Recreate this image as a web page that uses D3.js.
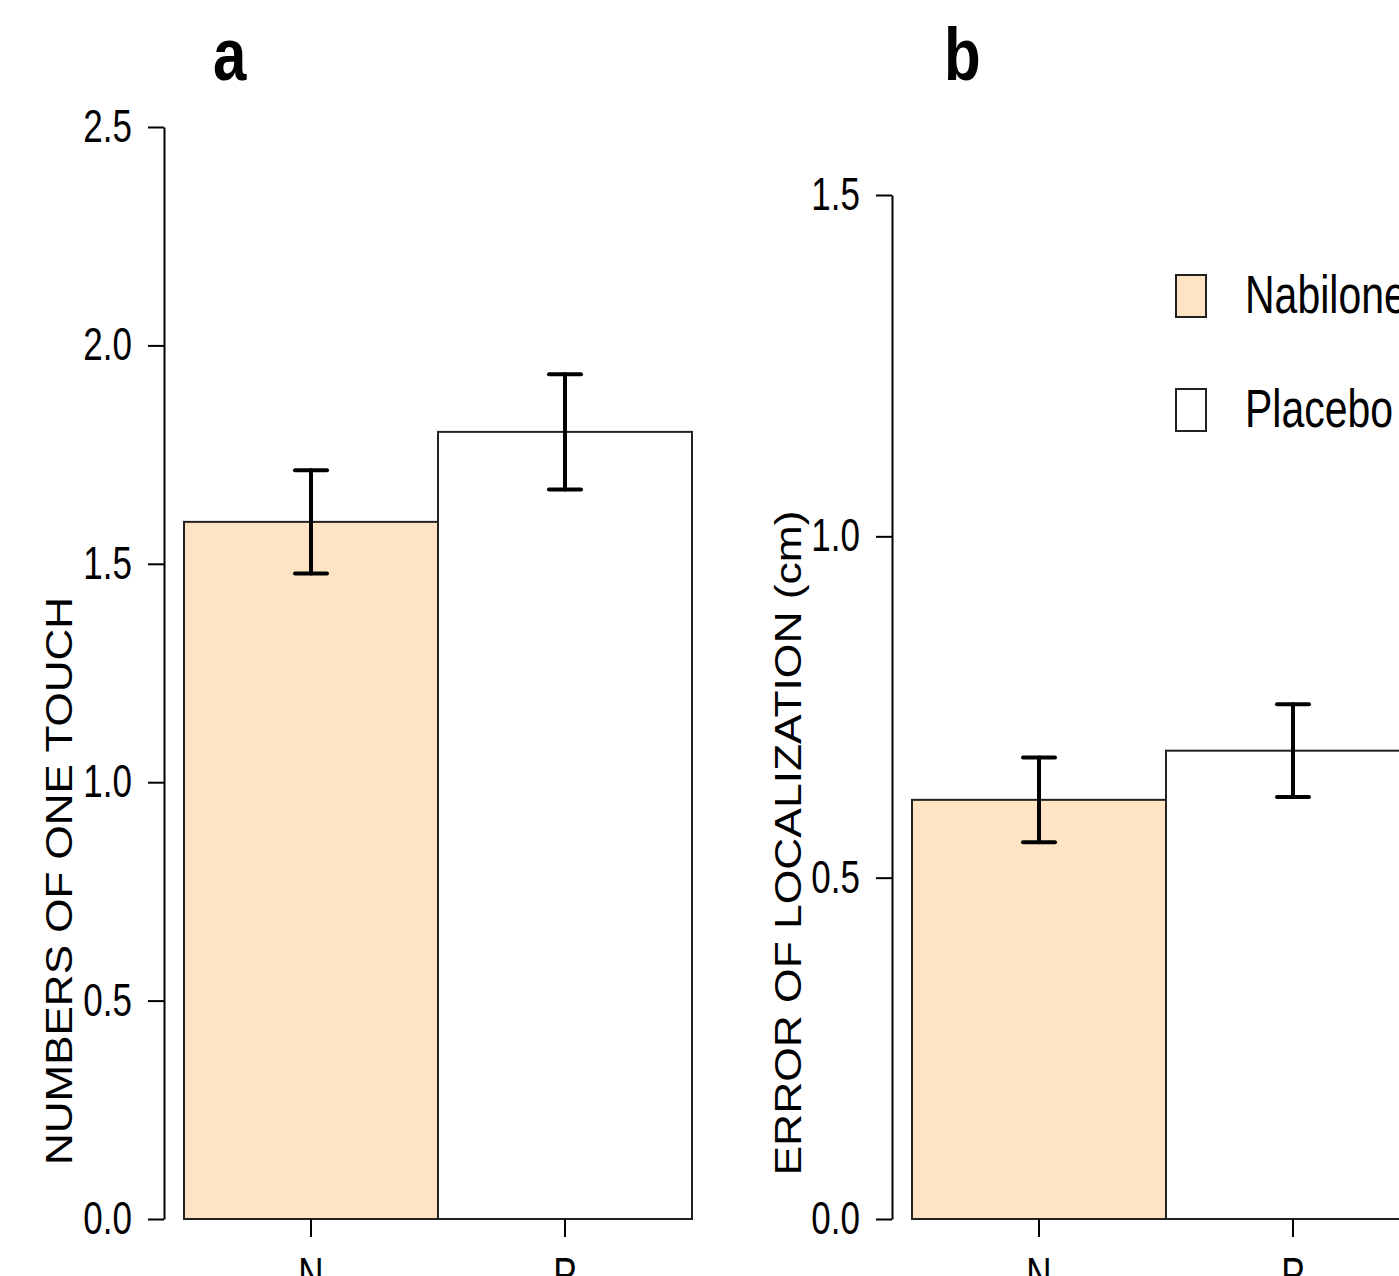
<!DOCTYPE html>
<html>
<head>
<meta charset="utf-8">
<script src="https://cdn.jsdelivr.net/npm/d3@7"></script>
<style>
  body { margin: 0; background: #fff; }
  svg { display: block; font-family: "Liberation Sans", Arial, sans-serif; }
</style>
</head>
<body>
<div id="chart"></div>
<script>
// groups on the x axis
var groups = ["N", "P"];
var groupNames = ["Nabilone", "Placebo"];
var groupFill = ["#FFE4C4", "#FFFFFF"];

// panel a: numbers of one touch
var touchMean = [1.596, 1.802];
var touchErr = [0.118, 0.132];
var touchTicks = [0, 0.5, 1.0, 1.5, 2.0, 2.5];

// panel b: error of localization (cm)
var locMean = [0.614, 0.686];
var locErr = [0.062, 0.068];
var locTicks = [0, 0.5, 1.0, 1.5];

var W = 1399, H = 1276;
var svg = d3.select("#chart").append("svg")
    .attr("width", W)
    .attr("height", H);

var stretch = 1.3; // the text in the picture is taller than wide

function drawPanel(opt) {
    var g = svg.append("g");

    var x = d3.scaleBand()
        .domain(groups)
        .range([opt.x0, opt.x0 + 508])
        .padding(0);

    var y = d3.scaleLinear()
        .domain([0, opt.ymax])
        .range([1219, opt.ytop]);

    // bars
    g.selectAll("rect.bar")
        .data(groups)
        .enter()
        .append("rect")
        .attr("class", "bar")
        .attr("x", function(d){ return x(d); })
        .attr("width", x.bandwidth())
        .attr("y", function(d, i){ return y(opt.mean[i]); })
        .attr("height", function(d, i){ return y(0) - y(opt.mean[i]); })
        .attr("fill", function(d, i){ return groupFill[i]; })
        .attr("stroke", "#222")
        .attr("stroke-width", 2);

    // error bars
    var cap = 16;
    var eb = g.selectAll("g.err")
        .data(groups)
        .enter()
        .append("g")
        .attr("class", "err")
        .attr("stroke", "#000")
        .attr("stroke-width", 4)
        .attr("stroke-linecap", "round");
    eb.append("line")
        .attr("x1", function(d){ return x(d) + x.bandwidth()/2; })
        .attr("x2", function(d){ return x(d) + x.bandwidth()/2; })
        .attr("y1", function(d, i){ return y(opt.mean[i] - opt.err[i]); })
        .attr("y2", function(d, i){ return y(opt.mean[i] + opt.err[i]); });
    eb.append("line")
        .attr("x1", function(d){ return x(d) + x.bandwidth()/2 - cap; })
        .attr("x2", function(d){ return x(d) + x.bandwidth()/2 + cap; })
        .attr("y1", function(d, i){ return y(opt.mean[i] + opt.err[i]); })
        .attr("y2", function(d, i){ return y(opt.mean[i] + opt.err[i]); });
    eb.append("line")
        .attr("x1", function(d){ return x(d) + x.bandwidth()/2 - cap; })
        .attr("x2", function(d){ return x(d) + x.bandwidth()/2 + cap; })
        .attr("y1", function(d, i){ return y(opt.mean[i] - opt.err[i]); })
        .attr("y2", function(d, i){ return y(opt.mean[i] - opt.err[i]); });

    // y axis
    var yAxis = d3.axisLeft(y)
        .tickValues(opt.ticks)
        .tickFormat(d3.format(".1f"))
        .tickSize(16)
        .tickSizeOuter(0)
        .tickPadding(16);
    var ya = g.append("g")
        .attr("transform", "translate(" + (opt.x0 - 20) + ",0)")
        .call(yAxis);
    ya.select(".domain").attr("stroke", "#000").attr("stroke-width", 2);
    ya.selectAll(".tick line").attr("stroke", "#000").attr("stroke-width", 2);
    ya.selectAll(".tick text")
        .attr("font-size", 35)
        .attr("font-family", "Liberation Sans, Arial, sans-serif")
        .attr("fill", "#000")
        .attr("transform", "scale(1," + stretch + ")");

    // x axis (ticks only, labels drop below the picture)
    var xAxis = d3.axisBottom(x)
        .tickSize(18)
        .tickSizeOuter(0)
        .tickPadding(12);
    var xa = g.append("g")
        .attr("transform", "translate(0,1219)")
        .call(xAxis);
    xa.select(".domain").remove();
    xa.selectAll(".tick line").attr("stroke", "#000").attr("stroke-width", 2);
    xa.selectAll(".tick text")
        .attr("font-size", 35)
        .attr("font-family", "Liberation Sans, Arial, sans-serif")
        .attr("fill", "#000")
        .attr("transform", "scale(1," + stretch + ")");

    // axis title
    g.append("text")
        .attr("text-anchor", "middle")
        .attr("font-size", 37)
        .attr("transform", "translate(" + opt.titleX + "," + opt.titleY + ") scale(1," + opt.titleStretch + ") rotate(-90)")
        .text(opt.title);

    // panel letter
    g.append("text")
        .attr("font-size", 60)
        .attr("font-weight", "bold")
        .attr("transform", "translate(" + opt.letterX + ",80) scale(1,1.22)")
        .text(opt.letter);
}

drawPanel({
    x0: 184, ymax: 2.5, ytop: 127,
    mean: touchMean, err: touchErr, ticks: touchTicks,
    title: "NUMBERS OF ONE TOUCH", titleX: 72, titleY: 881, titleStretch: 1.19,
    letter: "a", letterX: 213
});

drawPanel({
    x0: 912, ymax: 1.5, ytop: 195,
    mean: locMean, err: locErr, ticks: locTicks,
    title: "ERROR OF LOCALIZATION (cm)", titleX: 801, titleY: 843, titleStretch: 1.2,
    letter: "b", letterX: 944
});

// legend
var legend = svg.append("g")
    .selectAll("g")
    .data(groupNames)
    .enter()
    .append("g")
    .attr("transform", function(d, i){ return "translate(1176," + (275 + i * 114) + ")"; });
legend.append("rect")
    .attr("width", 30)
    .attr("height", 42)
    .attr("fill", function(d, i){ return groupFill[i]; })
    .attr("stroke", "#222")
    .attr("stroke-width", 2);
legend.append("text")
    .attr("font-size", 41)
    .attr("transform", "translate(69,38) scale(1,1.32)")
    .text(function(d){ return d; });
</script>
</body>
</html>
